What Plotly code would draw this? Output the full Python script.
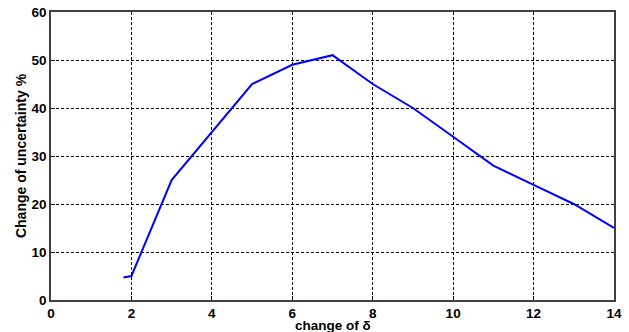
import plotly.graph_objects as go

delta = [1.8, 2, 3, 4, 5, 6, 7, 8, 9, 10, 11, 12, 13, 14]
uncertainty = [4.7, 5, 25, 35, 45, 49, 51, 45, 40, 34, 28, 24, 20, 15]
x_ticks = [0, 2, 4, 6, 8, 10, 12, 14]
y_ticks = [0, 10, 20, 30, 40, 50, 60]

fig = go.Figure()
fig.add_trace(go.Scatter(x=delta, y=uncertainty, mode="lines",
                         line=dict(color="#0000ff", width=2), showlegend=False))

font = dict(family="Liberation Sans, Arial, sans-serif", size=14, color="black")
axis_common = dict(showgrid=True, gridcolor="black", griddash="3px,2px", gridwidth=1,
                   showline=True, linecolor="#404040", linewidth=1.5, mirror=True,
                   ticks="inside", ticklen=4, tickcolor="black", zeroline=False,
                   automargin=False,
                   tickfont=dict(family="Liberation Sans, Arial, sans-serif", size=13.5, color="black"))

fig.update_layout(
    width=629, height=332,
    margin=dict(l=51, r=15, t=12, b=32),
    paper_bgcolor="white", plot_bgcolor="white",
    font=font,
    xaxis=dict(range=[0, 14], tickvals=x_ticks, ticktext=[f"<b>{v}</b>" for v in x_ticks],
               ticklabelstandoff=0,
               **axis_common),
    yaxis=dict(range=[0, 60], tickvals=y_ticks, ticktext=[f"<b>{v}</b>" for v in y_ticks],
               title=dict(text="<b>Change of uncertainty %</b>", standoff=2, font=dict(size=14)),
               **axis_common),
)
fig.add_annotation(text="<b>change of δ</b>", xref="paper", yref="paper", x=0.5, y=0,
                   xanchor="center", yanchor="top", yshift=-16.5, showarrow=False,
                   borderpad=0, font=dict(size=13.5, color="black"))
fig.write_html("out.html")
